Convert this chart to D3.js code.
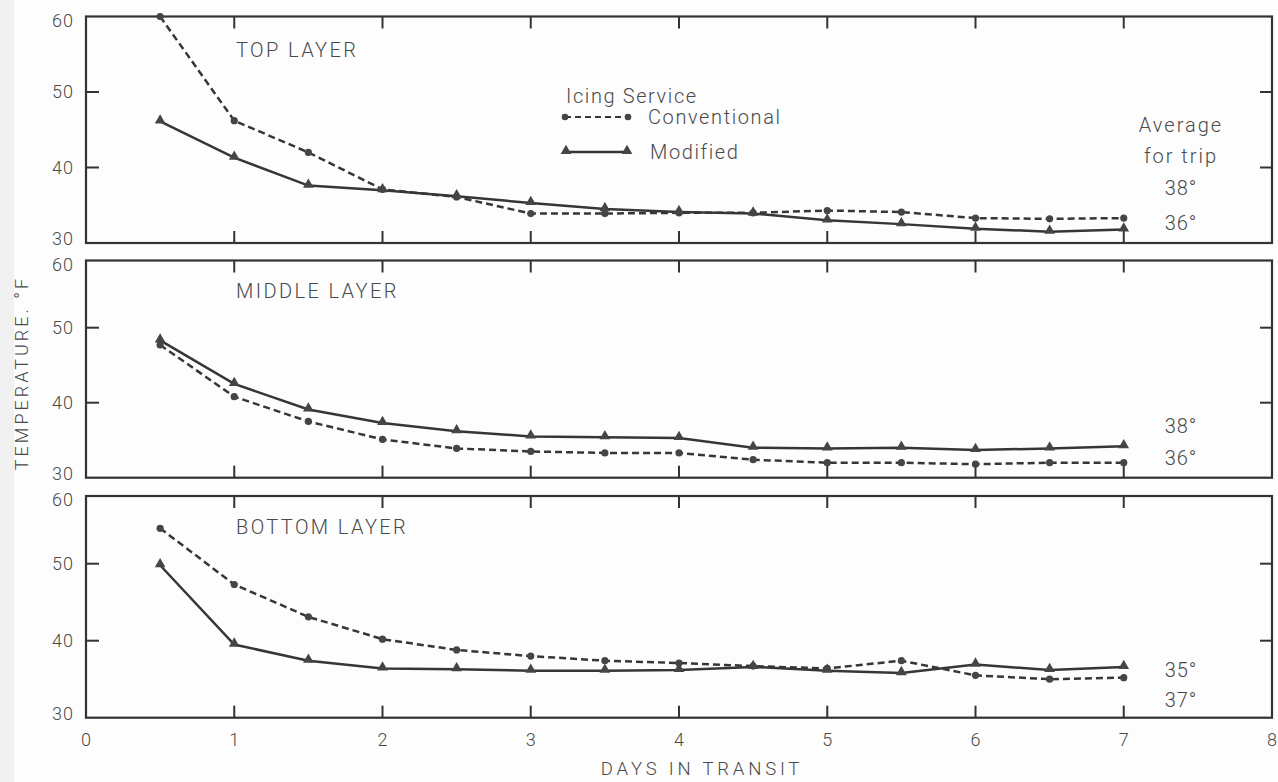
<!DOCTYPE html>
<html>
<head>
<meta charset="utf-8">
<script src="https://cdn.jsdelivr.net/npm/d3@7"></script>
<style>
  body { margin: 0; background: #fdfdfd; }
  text { font-family: Roboto, "Open Sans", sans-serif; font-weight: 300; fill: #4a4a4a; }
</style>
</head>
<body>
<div id="chart"></div>
<script>
const W = 1278, H = 782

// days in transit (sampled every half day)
const days = [0.5, 1, 1.5, 2, 2.5, 3, 3.5, 4, 4.5, 5, 5.5, 6, 6.5, 7]
const xTicks = [0, 1, 2, 3, 4, 5, 6, 7, 8]
const yTicks = [30, 40, 50, 60]

const layerNames = ["TOP LAYER", "MIDDLE LAYER", "BOTTOM LAYER"]

// temperatures, deg F
const topConventional = [60, 46.2, 42.0, 37.1, 36.1, 33.9, 33.9, 34.0, 34.0, 34.3, 34.1, 33.3, 33.2, 33.3]
const topModified     = [46.1, 41.3, 37.6, 37.0, 36.2, 35.3, 34.5, 34.1, 33.9, 33.0, 32.5, 31.9, 31.5, 31.8]
const midConventional = [47.7, 40.8, 37.5, 35.1, 33.9, 33.5, 33.3, 33.3, 32.4, 32.0, 32.0, 31.8, 32.0, 32.0]
const midModified     = [48.3, 42.5, 39.1, 37.3, 36.2, 35.5, 35.4, 35.3, 34.0, 33.9, 34.0, 33.7, 33.9, 34.2]
const botConventional = [54.6, 47.3, 43.1, 40.2, 38.8, 38.0, 37.4, 37.1, 36.7, 36.4, 37.4, 35.5, 35.0, 35.2]
const botModified     = [49.8, 39.5, 37.4, 36.4, 36.3, 36.1, 36.1, 36.2, 36.6, 36.1, 35.8, 36.9, 36.2, 36.6]

// average for trip labels (upper, lower) per layer
const tripAverages = [["38°", "36°"], ["38°", "36°"], ["35°", "37°"]]

const conventional = [topConventional, midConventional, botConventional]
const modified = [topModified, midModified, botModified]

// panel geometry: y of 30 and 60 lines, and where the frame top sits
const panels = [
  {y30: 243, y60: 16.5, top: 16.5, avgY: [188, 223], nameY: 50},
  {y30: 477.7, y60: 252.7, top: 260.5, avgY: [426, 458], nameY: 291},
  {y30: 717.7, y60: 486.7, top: 496, avgY: [670, 700], nameY: 527}
]

const INK = "#363636"

const svg = d3.select("#chart").append("svg")
  .attr("width", W).attr("height", H)

// faint scanner edge on the left
svg.append("rect").attr("x", 0).attr("y", 0).attr("width", 14).attr("height", H)
  .attr("fill", "#f1f1f1")

const x = d3.scaleLinear().domain([0, 8]).range([86, 1272])

panels.forEach((p, i) => {
  const y = d3.scaleLinear().domain([30, 60]).range([p.y30, p.y60])
  const g = svg.append("g")

  // frame
  g.append("rect")
    .attr("x", x(0)).attr("y", p.top)
    .attr("width", x(8) - x(0)).attr("height", p.y30 - p.top)
    .attr("fill", "none").attr("stroke", "#333").attr("stroke-width", 2.2)

  // inward ticks on all four sides
  const inner = xTicks.filter(d => d > 0 && d < 8)
  g.selectAll(".tb").data(inner).enter().append("line")
    .attr("x1", d => x(d)).attr("x2", d => x(d))
    .attr("y1", p.top).attr("y2", p.top + 12)
    .attr("stroke", "#333").attr("stroke-width", 2)
  g.selectAll(".bb").data(inner).enter().append("line")
    .attr("x1", d => x(d)).attr("x2", d => x(d))
    .attr("y1", p.y30).attr("y2", p.y30 - 12)
    .attr("stroke", "#333").attr("stroke-width", 2)
  const yin = yTicks.filter(d => d > 30 && d < 60)
  g.selectAll(".lt").data(yin).enter().append("line")
    .attr("x1", x(0)).attr("x2", x(0) + 13)
    .attr("y1", d => y(d)).attr("y2", d => y(d))
    .attr("stroke", "#333").attr("stroke-width", 2)
  g.selectAll(".rt").data(yin).enter().append("line")
    .attr("x1", x(8)).attr("x2", x(8) - 12)
    .attr("y1", d => y(d)).attr("y2", d => y(d))
    .attr("stroke", "#333").attr("stroke-width", 2)

  // y tick labels
  g.selectAll(".yl").data(yTicks).enter().append("text")
    .attr("x", 74)
    .attr("y", d => d == 60 ? Math.max(y(d), p.top) + 4 : d == 30 ? y(d) - 4 : y(d))
    .attr("dy", "0.36em")
    .attr("text-anchor", "end")
    .style("font-size", "18px").style("letter-spacing", "1px")
    .text(d => d)

  // layer name
  g.append("text")
    .attr("x", 236).attr("y", p.nameY).attr("dy", "0.36em")
    .style("font-size", "20px").style("letter-spacing", "2.4px")
    .text(layerNames[i])

  const line = d3.line().x((d, k) => x(days[k])).y(d => y(d))

  g.append("path").datum(conventional[i])
    .attr("d", line).attr("fill", "none")
    .attr("stroke", INK).attr("stroke-width", 2.5)
    .attr("stroke-dasharray", "7,4")
  g.append("path").datum(modified[i])
    .attr("d", line).attr("fill", "none")
    .attr("stroke", INK).attr("stroke-width", 2.5)

  g.selectAll(".dot").data(conventional[i]).enter().append("circle")
    .attr("cx", (d, k) => x(days[k])).attr("cy", d => y(d))
    .attr("r", 3.6).attr("fill", "#454545")
  g.selectAll(".tri").data(modified[i]).enter().append("path")
    .attr("d", d3.symbol().type(d3.symbolTriangle).size(50))
    .attr("transform", (d, k) => `translate(${x(days[k])},${y(d) - 1})`)
    .attr("fill", "#454545")

  // average for trip
  g.selectAll(".avg").data(tripAverages[i]).enter().append("text")
    .attr("x", 1181).attr("y", (d, k) => p.avgY[k]).attr("dy", "0.36em")
    .attr("text-anchor", "middle")
    .style("font-size", "20px").style("letter-spacing", "1px")
    .text(d => d)
})

svg.append("text").attr("x", 1181).attr("y", 125).attr("dy", "0.36em")
  .attr("text-anchor", "middle")
  .style("font-size", "20px").style("letter-spacing", "2px")
  .text("Average")
svg.append("text").attr("x", 1181).attr("y", 156).attr("dy", "0.36em")
  .attr("text-anchor", "middle")
  .style("font-size", "20px").style("letter-spacing", "2px")
  .text("for trip")

// legend
const lg = svg.append("g")
lg.append("text").attr("x", 566).attr("y", 96).attr("dy", "0.36em")
  .style("font-size", "20px").style("letter-spacing", "1.6px")
  .text("Icing Service")
lg.append("line").attr("x1", 565).attr("x2", 628).attr("y1", 117).attr("y2", 117)
  .attr("stroke", INK).attr("stroke-width", 2).attr("stroke-dasharray", "6,4")
lg.selectAll(".ld").data([565, 628]).enter().append("circle")
  .attr("cx", d => d).attr("cy", 117).attr("r", 3.3).attr("fill", "#454545")
lg.append("text").attr("x", 648).attr("y", 117).attr("dy", "0.36em")
  .style("font-size", "20px").style("letter-spacing", "1.6px")
  .text("Conventional")
lg.append("line").attr("x1", 566).attr("x2", 627).attr("y1", 152).attr("y2", 152)
  .attr("stroke", INK).attr("stroke-width", 2.5)
lg.selectAll(".lt").data([566, 627]).enter().append("path")
  .attr("d", d3.symbol().type(d3.symbolTriangle).size(50))
  .attr("transform", d => `translate(${d},${151})`)
  .attr("fill", "#454545")
lg.append("text").attr("x", 650).attr("y", 152).attr("dy", "0.36em")
  .style("font-size", "20px").style("letter-spacing", "1.6px")
  .text("Modified")

// x axis labels
svg.selectAll(".xl").data(xTicks).enter().append("text")
  .attr("x", d => x(d)).attr("y", 740).attr("dy", "0.36em")
  .attr("text-anchor", "middle")
  .style("font-size", "18px")
  .text(d => d)

svg.append("text").attr("x", 702).attr("y", 768).attr("dy", "0.36em")
  .attr("text-anchor", "middle")
  .style("font-size", "18.5px").style("letter-spacing", "3.8px")
  .text("DAYS IN TRANSIT")

svg.append("text")
  .attr("transform", "translate(22,373) rotate(-90)")
  .attr("dy", "0.36em")
  .attr("text-anchor", "middle")
  .style("font-size", "18px").style("letter-spacing", "3px")
  .text("TEMPERATURE. °F")
</script>
</body>
</html>
